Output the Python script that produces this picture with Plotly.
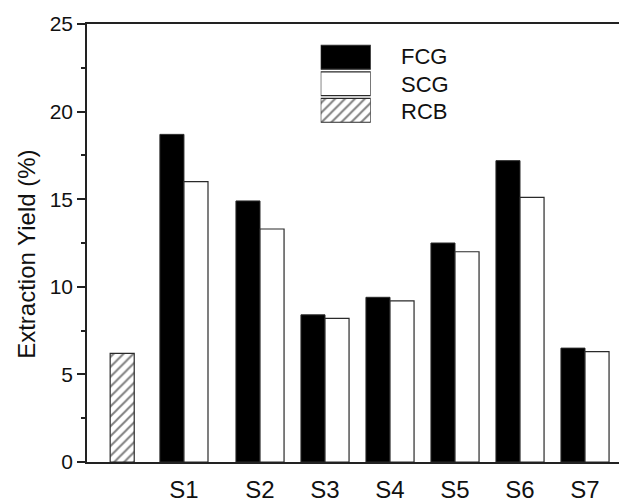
import plotly.graph_objects as go

# ---- data ----
samples = ["S1", "S2", "S3", "S4", "S5", "S6", "S7"]
sample_pos = [0.83, 2, 3, 4, 5, 6, 7]
fcg = [18.7, 14.9, 8.4, 9.4, 12.5, 17.2, 6.5]
scg = [16.0, 13.3, 8.2, 9.2, 12.0, 15.1, 6.3]
rcb_pos = [-0.12]
rcb = [6.2]
series_names = ["FCG", "SCG", "RCB"]
y_ticks = [0, 5, 10, 15, 20, 25]

FONT = "Liberation Sans, Arial, Helvetica, sans-serif"
TXT = "#111111"
W = 0.37
EDGE = "#2a2a2a"
hatch = dict(shape="/", size=7, solidity=0.28, fgcolor="black", bgcolor="white")

fig = go.Figure()
fig.add_trace(go.Bar(x=sample_pos, y=fcg, width=W, offset=-W, name="FCG",
                     marker=dict(color="black", line=dict(color=EDGE, width=1)),
                     showlegend=False))
fig.add_trace(go.Bar(x=sample_pos, y=scg, width=W, offset=0, name="SCG",
                     marker=dict(color="white", line=dict(color=EDGE, width=1.2)),
                     showlegend=False))
fig.add_trace(go.Bar(x=rcb_pos, y=rcb, width=W, offset=-W / 2, name="RCB",
                     marker=dict(color="white", pattern=hatch, line=dict(color=EDGE, width=1.2)),
                     showlegend=False))

# ---- custom legend built as a tiny horizontal bar subplot ----
leg_fill = ["black", "white", "white"]
leg_pattern = [dict(shape=""), dict(shape=""), hatch]
leg_text_y = [0.926, 0.8625, 0.801]
for i, nm in enumerate(series_names):
    fig.add_trace(go.Bar(x=[1], y=[i], orientation="h", width=0.9, xaxis="x2", yaxis="y2",
                         marker=dict(color=leg_fill[i], pattern=leg_pattern[i],
                                     line=dict(color=EDGE, width=1.2)),
                         cliponaxis=False, showlegend=False, hoverinfo="skip"))
    fig.add_annotation(x=0.586, y=leg_text_y[i], xref="paper", yref="paper", text=nm,
                       showarrow=False, xanchor="left", yanchor="middle",
                       font=dict(family=FONT, size=22, color=TXT))

# y-axis title as a rotated annotation to match its placement
fig.add_annotation(x=-0.113, y=0.475, xref="paper", yref="paper", text="Extraction Yield (%)",
                   textangle=-90, showarrow=False, xanchor="center", yanchor="middle",
                   font=dict(family=FONT, size=24, color=TXT))

fig.update_layout(
    width=619, height=503,
    margin=dict(l=87, r=0, t=24, b=39),
    plot_bgcolor="white", paper_bgcolor="white",
    barmode="overlay",
    font=dict(family=FONT, color=TXT),
    xaxis=dict(range=[-0.6615, 7.523], tickvals=sample_pos, ticktext=samples,
               showline=True, linecolor="#222", linewidth=1.5, mirror=True,
               ticks="", showgrid=False, zeroline=False,
               tickfont=dict(size=24, family=FONT, color=TXT),
               ticklabelstandoff=5),
    yaxis=dict(range=[0, 25], tickvals=y_ticks,
               showline=True, linecolor="#222", linewidth=1.5,
               ticks="outside", ticklen=8, tickwidth=1.5, tickcolor="#222",
               minor=dict(dtick=2.5, ticks="outside", ticklen=4, tickwidth=1.5, tickcolor="#222"),
               showgrid=False, zeroline=False,
               tickfont=dict(size=21, family=FONT, color=TXT)),
    xaxis2=dict(domain=[0.4393, 0.5333], range=[0, 1], anchor="y2", visible=False, fixedrange=True),
    yaxis2=dict(domain=[0.7727, 0.9545], range=[2.5, -0.5], anchor="x2", visible=False, fixedrange=True),
)

fig.write_html("out.html")
